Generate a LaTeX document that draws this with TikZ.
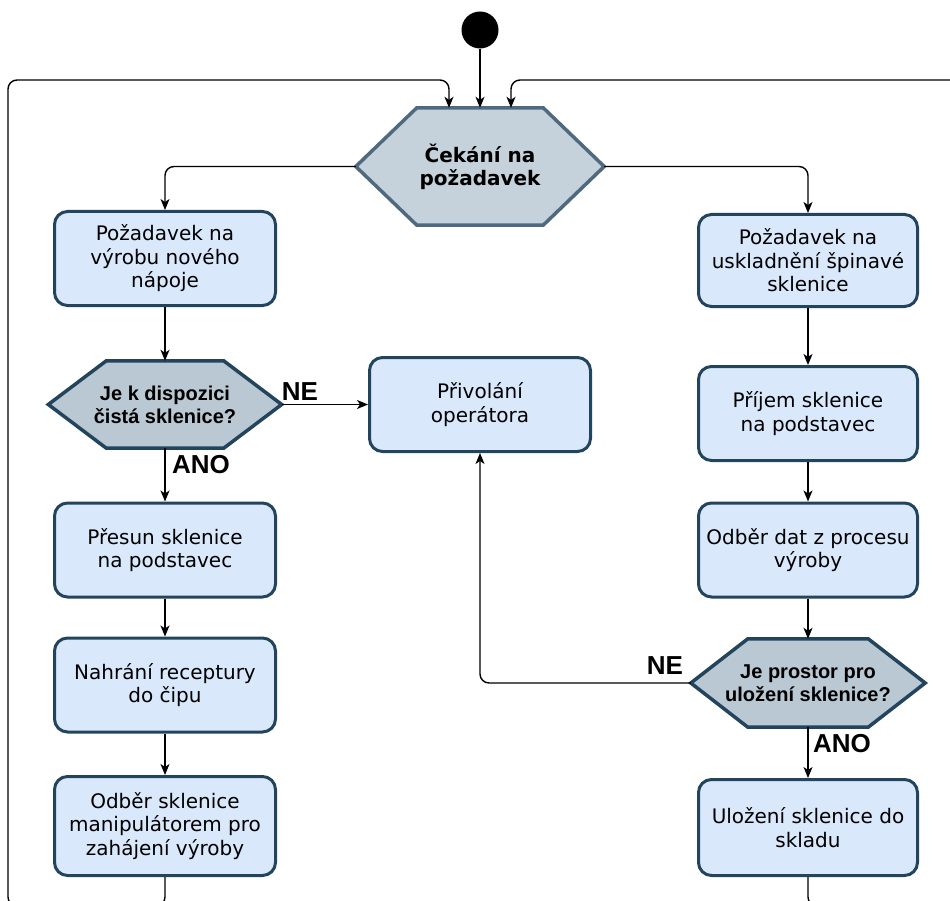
\documentclass[tikz,border=0pt]{standalone}
\usepackage{fontspec}
\usepackage{xcolor}
\usepackage{tikz}
\usetikzlibrary{arrows.meta}

\newfontfamily\boxfont{DejaVu Sans}
\newfontfamily\askfont{Liberation Sans}

\definecolor{boxfill}{HTML}{DAE8FC}
\definecolor{boxline}{HTML}{23445D}
\definecolor{hexfill}{HTML}{BAC8D3}
\definecolor{waitfill}{HTML}{C5D2DB}
\definecolor{waitline}{HTML}{4F6A7F}

\pgfdeclarelayer{back}
\pgfsetlayers{back,main}

% hexagon round a plain node
\newcommand{\hexpath}[2]{([xshift=#2]#1.north west) -- ([xshift=-#2]#1.north east) -- (#1.east) -- ([xshift=-#2]#1.south east) -- ([xshift=#2]#1.south west) -- (#1.west) -- cycle}

\begin{document}
\begin{tikzpicture}[
  x = 1pt, y = -1pt,
  box/.style = {draw = boxline, fill = boxfill, line width = 3pt, rounded corners = 13pt,
    minimum width = 221pt, minimum height = 94pt, inner sep = 3pt, align = center,
    font = \boxfont\fontsize{20}{23.5}\selectfont},
  ask/.style = {inner sep = 0pt, minimum width = 233pt, minimum height = 87pt, align = center,
    font = \askfont\bfseries\fontsize{20}{23}\selectfont},
  hexask/.style = {draw = boxline, fill = hexfill, line width = 3.5pt},
  hexwait/.style = {draw = waitline, fill = waitfill, line width = 3.5pt},
  flow/.style = {draw, line width = 1.4pt, rounded corners = 9pt,
    -{Stealth[length = 11pt, width = 9pt, inset = 3pt]}},
  lbl/.style = {inner sep = 0pt, font = \askfont\bfseries\fontsize{26}{30}\selectfont}
  ]
  \useasboundingbox (0,0) rectangle (950,901);
  \clip (0,0) rectangle (950,901);

  \node[circle, fill = black, minimum size = 37pt, inner sep = 0pt] (start) at (480,30) {};
  \node[ask, font = \boxfont\bfseries\fontsize{20}{23}\selectfont,
    minimum width = 248pt, minimum height = 117pt] (wait) at (480,166.5) {Čekání na\\požadavek};

  % left branch
  \node[box] (req1) at (165,258.5) {Požadavek na\\výrobu nového\\nápoje};
  \node[ask] (free) at (165,404.5) {Je k dispozici\\čistá sklenice?};
  \node[box] (move) at (165,550) {Přesun sklenice\\na podstavec};
  \node[box] (load) at (165,685) {Nahrání receptury\\do čipu};
  \node[box, minimum height = 99pt] (take) at (165,826) {Odběr sklenice\\manipulátorem pro\\zahájení výroby};

  \node[box] (oper) at (480,404.5) {Přivolání\\operátora};

  % right branch
  \node[box, minimum width = 219pt, minimum height = 92pt] (req2) at (808,260.5) {Požadavek na\\uskladnění špinavé\\sklenice};
  \node[box, minimum width = 219pt] (recv) at (808,413.5) {Příjem sklenice\\na podstavec};
  \node[box, minimum width = 219pt] (data) at (808,550) {Odběr dat z procesu\\výroby};
  \node[ask, minimum width = 234pt, minimum height = 88pt] (space) at (808,683) {Je prostor pro\\uložení sklenice?};
  \node[box, minimum width = 219pt, minimum height = 96pt] (store) at (808,827.5) {Uložení sklenice do\\skladu};

  \node[lbl] (nol) at (300,392) {NE};
  \node[lbl] (anol) at (201,465) {ANO};
  \node[lbl] (nor) at (665,666) {NE};
  \node[lbl] (anor) at (842,744) {ANO};

  \begin{pgfonlayer}{back}
    \draw[hexwait] \hexpath{wait}{61pt};
    \draw[hexask] \hexpath{free}{58pt};
    \draw[hexask] \hexpath{space}{57pt};
  \end{pgfonlayer}

  \draw[flow] (start) -- (wait.north);
  \draw[flow] (wait.west) -| (req1.north);
  \draw[flow] (wait.east) -| (req2.north);

  \draw[flow] (req1.south) -- (free.north);
  \draw[flow] (free.south) -- (move.north);
  \draw[flow] (free.east) -- (oper.west);
  \draw[flow] (move) -- (load);
  \draw[flow] (load) -- (take);

  \draw[flow] (req2) -- (recv);
  \draw[flow] (recv) -- (data);
  \draw[flow] (data.south) -- (space.north);
  \draw[flow] (space.west) -| (oper.south);
  \draw[flow] (space.south) -- (store.north);

  % back to waiting
  \draw[flow] (take.south) -- (165,906) -| (8,80) -| ([xshift = -31pt]wait.north);
  \draw[flow] (store.south) -- (808,906) -| (965,80) -| ([xshift = 31pt]wait.north);
\end{tikzpicture}
\end{document}
